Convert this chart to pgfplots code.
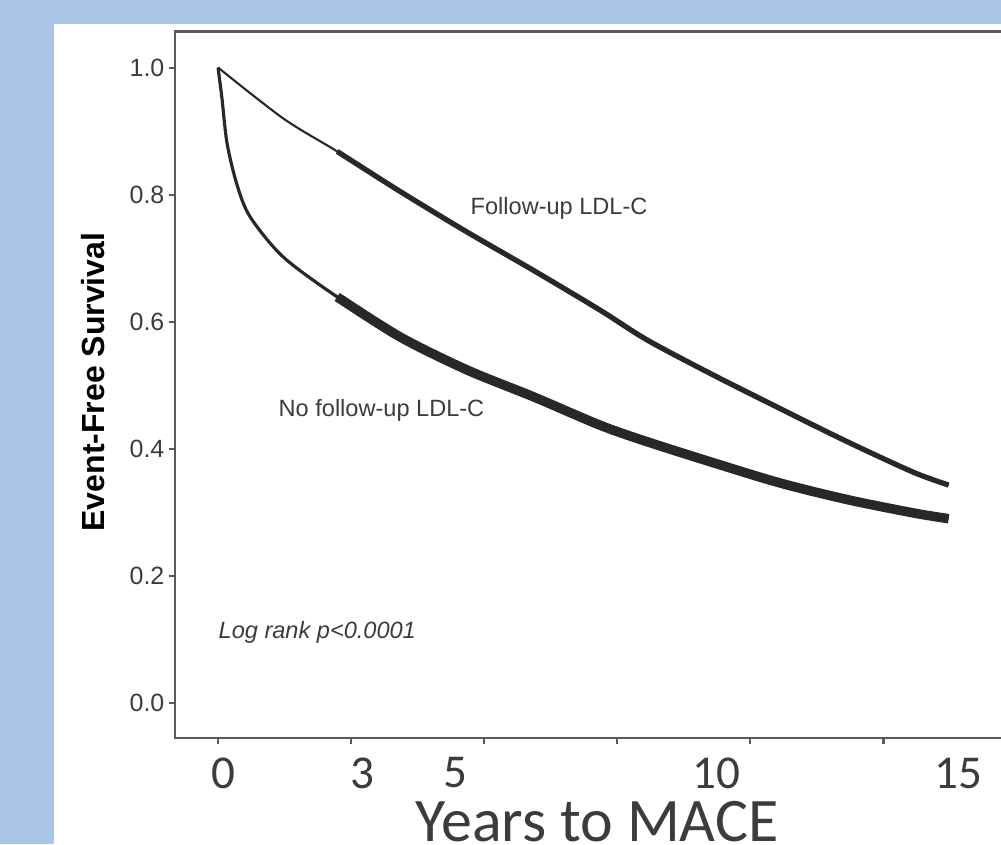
\documentclass[border=0pt]{standalone}
\usepackage{fontspec}
\setmainfont{Liberation Sans}
\newfontfamily\carlito{Carlito}
\usepackage{pgfplots}
\pgfplotsset{compat=1.18}

\definecolor{bgblue}{RGB}{169,197,232}
\definecolor{axgray}{RGB}{90,90,90}
\definecolor{curve}{RGB}{40,40,40}
\definecolor{txt}{RGB}{60,60,60}

% survival estimates (days, S)
\pgfplotstableread{
d S
0 1.000
489 0.920
895 0.868
1368 0.805
1872 0.741
2368 0.681
2872 0.618
3226 0.571
3722 0.516
4226 0.463
4729 0.411
5226 0.363
5489 0.343
}\fup
\pgfplotstableread{
d S
0 1.000
15 0.975
30 0.950
68 0.880
143 0.815
241 0.765
489 0.702
895 0.639
1368 0.576
1872 0.524
2368 0.482
2872 0.437
3226 0.411
3722 0.378
4226 0.346
4729 0.320
5226 0.299
5489 0.290
}\nofup

\begin{document}
\begin{tikzpicture}[x=0.01cm,y=0.01cm]
\begin{scope}
\clip (0,0) rectangle (1001,844);
\fill[bgblue] (0,0) rectangle (1001,844);
\fill[white] (54,0) rectangle (1001,820);
\begin{axis}[
    at={(1.75cm,1.06cm)}, anchor=south west,
    scale only axis, width=8.35cm, height=7.06cm,
    xmin=-323, xmax=5955, ymin=-0.0551, ymax=1.0567,
    axis line style={axgray, line width=0.6pt},
    xtick={0,1000,...,5000}, xticklabels={},
    ytick={0,0.2,0.4,0.6,0.8,1.0},
    tick pos=left, tick align=outside,
    major tick length=0.065cm,
    tick style={axgray, line width=0.6pt},
    yticklabel style={/pgf/number format/.cd, fixed, fixed zerofill, precision=1, assume math mode=true},
    tick label style={font=\fontsize{7.1}{8}\selectfont, text=txt, inner sep=1pt},
    clip=false,
]
\addplot[curve, line width=0.6pt, smooth, tension=0.5, line join=round] table[x=d,y=S] {\fup};
\addplot[curve, line width=0.9pt, smooth, tension=0.5, line join=round] table[x=d,y=S] {\nofup};
\addplot[curve, line width=1.5pt, smooth, tension=0.5, line join=round, restrict x to domain=895:6000] table[x=d,y=S] {\fup};
\addplot[curve, line width=2.7pt, smooth, tension=0.5, line join=round, restrict x to domain=895:6000] table[x=d,y=S] {\nofup};
\end{axis}
\node[rotate=90, font=\fontsize{9.1}{10}\selectfont\bfseries] at (93,462) {Event-Free Survival};
\node[anchor=west, inner sep=0, text=txt, font=\fontsize{6.7}{8}\selectfont] at (470,636) {Follow-up LDL-C};
\node[anchor=west, inner sep=0, text=txt, font=\fontsize{6.7}{8}\selectfont] at (278,434) {No follow-up LDL-C};
\node[anchor=west, inner sep=0, text=txt, font=\fontsize{6.7}{8}\selectfont\itshape] at (218,212) {Log rank p<0.0001};
\foreach \px/\lab in {223/0, 362/3, 455/5, 716/10, 958/15}
  \node[inner sep=0, text=txt, font=\carlito\fontsize{13.4}{15}\selectfont] at (\px,71) {\lab};
\node[anchor=base, inner sep=0, text=txt, font=\carlito\fontsize{17.6}{20}\selectfont] at (597,3) {Years to MACE};
\end{scope}
\pgfresetboundingbox
\path[use as bounding box] (0,0) rectangle (1001,844);
\end{tikzpicture}
\end{document}
